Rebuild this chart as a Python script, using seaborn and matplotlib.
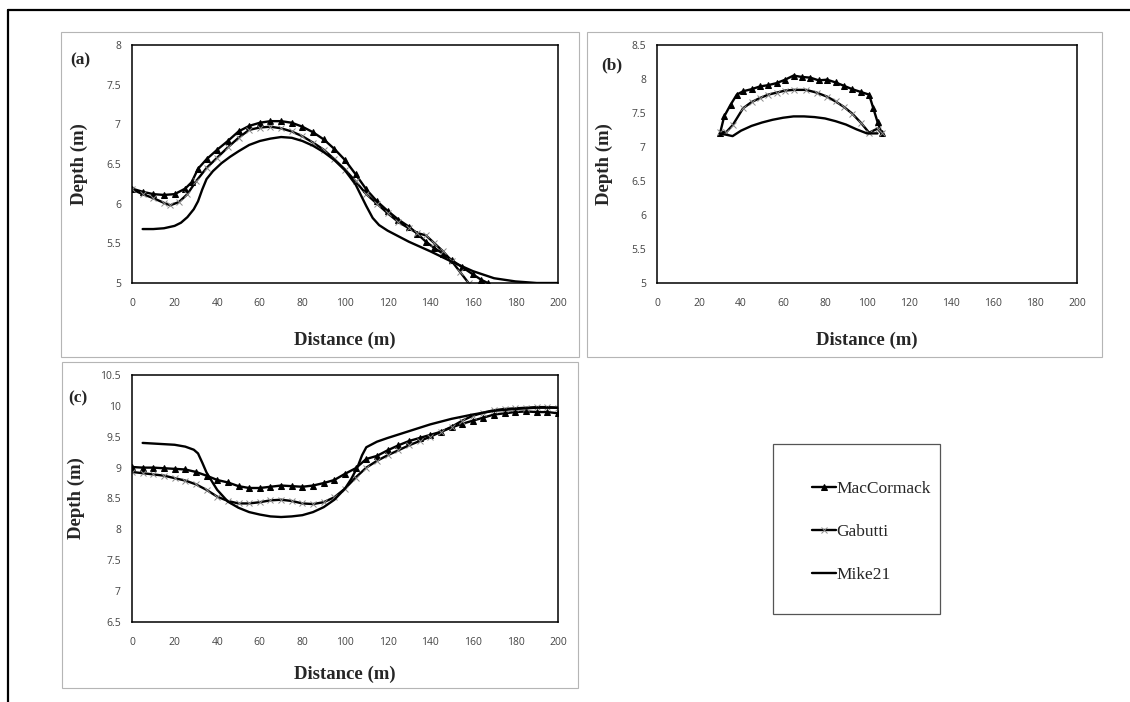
import matplotlib
matplotlib.use("Agg")
import matplotlib.pyplot as plt
import seaborn as sns
from matplotlib.lines import Line2D
from matplotlib.patches import Rectangle

# ---- data ----
# panel (a)
a_mac_x = [0, 5, 10, 15, 20, 25, 28, 31, 35, 40, 45, 50, 55, 60, 65, 70, 75, 80, 85, 90, 95,
           100, 105, 110, 115, 120, 125, 130, 134, 138, 142, 146, 150, 155, 160, 164, 167]
a_mac_y = [6.19, 6.15, 6.12, 6.11, 6.12, 6.19, 6.27, 6.44, 6.56, 6.68, 6.79, 6.91, 6.98, 7.02, 7.04,
           7.04, 7.02, 6.97, 6.90, 6.81, 6.69, 6.55, 6.37, 6.18, 6.03, 5.91, 5.80, 5.71, 5.62, 5.52,
           5.44, 5.37, 5.29, 5.20, 5.11, 5.04, 5.00]
a_gab_x = [0, 5, 10, 15, 18, 22, 26, 30, 35, 40, 45, 50, 55, 60, 65, 70, 75, 80, 85, 90, 95, 100,
           105, 110, 115, 120, 125, 130, 134, 138, 142, 146, 150, 154, 158]
a_gab_y = [6.18, 6.12, 6.07, 6.01, 5.98, 6.02, 6.12, 6.28, 6.45, 6.58, 6.71, 6.83, 6.93, 6.96, 6.97,
           6.95, 6.91, 6.85, 6.77, 6.68, 6.56, 6.43, 6.28, 6.12, 6.00, 5.88, 5.77, 5.69, 5.63, 5.60,
           5.50, 5.40, 5.28, 5.14, 5.00]
a_mike_x = [5, 10, 15, 20, 23, 26, 29, 31, 33, 35, 38, 42, 46, 50, 55, 60, 65, 70, 75, 80, 85, 90,
            95, 100, 105, 110, 113, 116, 120, 125, 130, 140, 150, 160, 170, 180, 190, 200]
a_mike_y = [5.68, 5.68, 5.69, 5.72, 5.76, 5.83, 5.93, 6.03, 6.18, 6.31, 6.41, 6.51, 6.59, 6.66, 6.74,
            6.79, 6.82, 6.84, 6.83, 6.79, 6.73, 6.65, 6.55, 6.42, 6.24, 5.97, 5.82, 5.73, 5.66, 5.59,
            5.52, 5.40, 5.27, 5.15, 5.06, 5.02, 5.00, 5.00]

# panel (b)
b_mac_x = [30, 32, 35, 38, 41, 45, 49, 53, 57, 61, 65, 69, 73, 77, 81, 85, 89, 93, 97, 101, 103, 105, 107]
b_mac_y = [7.20, 7.45, 7.62, 7.77, 7.82, 7.85, 7.89, 7.91, 7.94, 7.99, 8.05, 8.03, 8.02, 7.98, 7.99,
           7.95, 7.90, 7.85, 7.81, 7.77, 7.57, 7.37, 7.20]
b_gab_x = [30, 33, 36, 41, 45, 49, 53, 57, 61, 65, 71, 76, 81, 85, 89, 93, 97, 101, 105, 107]
b_gab_y = [7.22, 7.22, 7.32, 7.57, 7.66, 7.72, 7.77, 7.80, 7.83, 7.84, 7.84, 7.80, 7.74, 7.67, 7.59,
           7.49, 7.36, 7.21, 7.27, 7.20]
b_mike_x = [30, 33, 36, 40, 45, 50, 55, 60, 65, 70, 75, 80, 85, 90, 95, 100, 105]
b_mike_y = [7.20, 7.18, 7.16, 7.24, 7.31, 7.36, 7.40, 7.43, 7.45, 7.45, 7.44, 7.42, 7.38, 7.33, 7.26,
            7.20, 7.20]

# panel (c)
c_mac_x = list(range(0, 201, 5))
c_mac_y = [9.01, 9.00, 9.00, 8.99, 8.98, 8.97, 8.93, 8.87, 8.80, 8.76, 8.70, 8.67, 8.67, 8.69, 8.71,
           8.70, 8.69, 8.71, 8.75, 8.80, 8.90, 8.99, 9.14, 9.19, 9.28, 9.36, 9.43, 9.48, 9.53, 9.58,
           9.65, 9.71, 9.76, 9.81, 9.86, 9.88, 9.90, 9.91, 9.90, 9.90, 9.88]
c_gab_x = list(range(0, 201, 5))
c_gab_y = [8.93, 8.91, 8.89, 8.87, 8.83, 8.79, 8.73, 8.64, 8.53, 8.46, 8.42, 8.42, 8.44, 8.47, 8.48,
           8.46, 8.42, 8.41, 8.44, 8.52, 8.66, 8.84, 9.00, 9.11, 9.20, 9.28, 9.36, 9.43, 9.50, 9.58,
           9.66, 9.76, 9.84, 9.89, 9.93, 9.95, 9.96, 9.97, 9.98, 9.98, 9.97]
c_mike_x = [5, 10, 15, 20, 25, 29, 31, 33, 35, 38, 40, 45, 50, 55, 60, 65, 70, 75, 80, 85, 90, 95,
            100, 103, 106, 108, 110, 115, 120, 130, 140, 150, 160, 170, 180, 190, 200]
c_mike_y = [9.40, 9.39, 9.38, 9.37, 9.34, 9.29, 9.23, 9.08, 8.92, 8.75, 8.64, 8.45, 8.35, 8.28, 8.24,
            8.21, 8.20, 8.21, 8.23, 8.28, 8.36, 8.48, 8.66, 8.82, 9.02, 9.20, 9.33, 9.42, 9.48, 9.59,
            9.70, 9.79, 9.86, 9.92, 9.95, 9.97, 9.97]

series_names = ["MacCormack", "Gabutti", "Mike21"]
x_ticks = list(range(0, 201, 20))
a_yticks = [5, 5.5, 6, 6.5, 7, 7.5, 8]
b_yticks = [5, 5.5, 6, 6.5, 7, 7.5, 8, 8.5]
c_yticks = [6.5, 7, 7.5, 8, 8.5, 9, 9.5, 10, 10.5]

sns.set_style("white")
plt.rcParams["font.family"] = ["Liberation Serif", "DejaVu Serif"]

W, H = 1130, 702
fig = plt.figure(figsize=(W / 100, H / 100), dpi=100)


def px_axes(left, top, right, bottom):
    return fig.add_axes([left / W, 1 - bottom / H, (right - left) / W, (bottom - top) / H])


def fig_box(left, top, right, bottom, color, lw):
    fig.patches.append(Rectangle((left / W, 1 - bottom / H), (right - left) / W, (bottom - top) / H,
                                 transform=fig.transFigure, fill=False, edgecolor=color, lw=lw))


def draw_panel(ax, mac, gab, mike, yticks, tag, xlab_y, ylab_x, tag_xy):
    sns.lineplot(x=mac[0], y=mac[1], ax=ax, color="black", lw=1.7, marker="^", markersize=4.5,
                 markeredgecolor="black", label=series_names[0], legend=False)
    sns.lineplot(x=gab[0], y=gab[1], ax=ax, color="black", lw=1.7, marker="x", markersize=5,
                 markeredgecolor="#8a8a8a", markeredgewidth=0.7, label=series_names[1], legend=False)
    sns.lineplot(x=mike[0], y=mike[1], ax=ax, color="black", lw=1.7, label=series_names[2], legend=False)
    ax.set_xlim(0, 200)
    ax.set_ylim(yticks[0], yticks[-1])
    ax.set_xticks(x_ticks)
    ax.set_yticks(yticks)
    ax.set_xticklabels([str(t) for t in x_ticks])
    ax.set_yticklabels([("%g" % t) for t in yticks])
    ax.tick_params(length=0, labelsize=7.5, labelcolor="#444444", pad=8)
    ax.tick_params(axis="x", pad=11)
    for lab in ax.get_xticklabels() + ax.get_yticklabels():
        lab.set_family(["Open Sans", "DejaVu Sans"])
    for s in ax.spines.values():
        s.set_color("black")
        s.set_linewidth(1.1)
    ax.set_xlabel("Distance (m)", fontsize=13.5, fontweight="bold")
    ax.set_ylabel("Depth (m)", fontsize=13.5, fontweight="bold")
    ax.xaxis.set_label_coords(0.5, xlab_y)
    ax.yaxis.set_label_coords(ylab_x, 0.5)
    fig.text(tag_xy[0] / W, 1 - tag_xy[1] / H, tag, fontsize=12.5, fontweight="bold",
             ha="center", va="center")


# outer frame (top and left edges only)
fig.lines.append(Line2D([8 / W, 1], [1 - 10 / H, 1 - 10 / H], transform=fig.transFigure, color="black", lw=1.6))
fig.lines.append(Line2D([8 / W, 8 / W], [1 - 10 / H, 0], transform=fig.transFigure, color="black", lw=1.6))

# panel frames
fig_box(61, 32, 579, 357, "#b5b5b5", 0.8)
fig_box(587, 32, 1102, 357, "#b5b5b5", 0.8)
fig_box(62, 362, 578, 688, "#b5b5b5", 0.8)

ax_a = px_axes(132, 45, 558, 283)
draw_panel(ax_a, (a_mac_x, a_mac_y), (a_gab_x, a_gab_y), (a_mike_x, a_mike_y), a_yticks, "(a)",
           -0.206, -0.103, (80, 60))

ax_b = px_axes(657, 45, 1077, 283)
draw_panel(ax_b, (b_mac_x, b_mac_y), (b_gab_x, b_gab_y), (b_mike_x, b_mike_y), b_yticks, "(b)",
           -0.206, -0.105, (612, 65))

ax_c = px_axes(132, 375, 558, 622)
draw_panel(ax_c, (c_mac_x, c_mac_y), (c_gab_x, c_gab_y), (c_mike_x, c_mike_y), c_yticks, "(c)",
           -0.178, -0.110, (78, 398))

# legend box
fig_box(773, 444, 940, 614, "#555555", 0.9)
handles, labels = ax_a.get_legend_handles_labels()
fig.legend(handles, labels, loc="center left", bbox_to_anchor=(803 / W, 1 - 532 / H), frameon=False,
           fontsize=12.5, handlelength=1.4, handletextpad=0.0, labelspacing=1.55, borderpad=0)

fig.savefig("out.png", dpi=100, facecolor="white")
